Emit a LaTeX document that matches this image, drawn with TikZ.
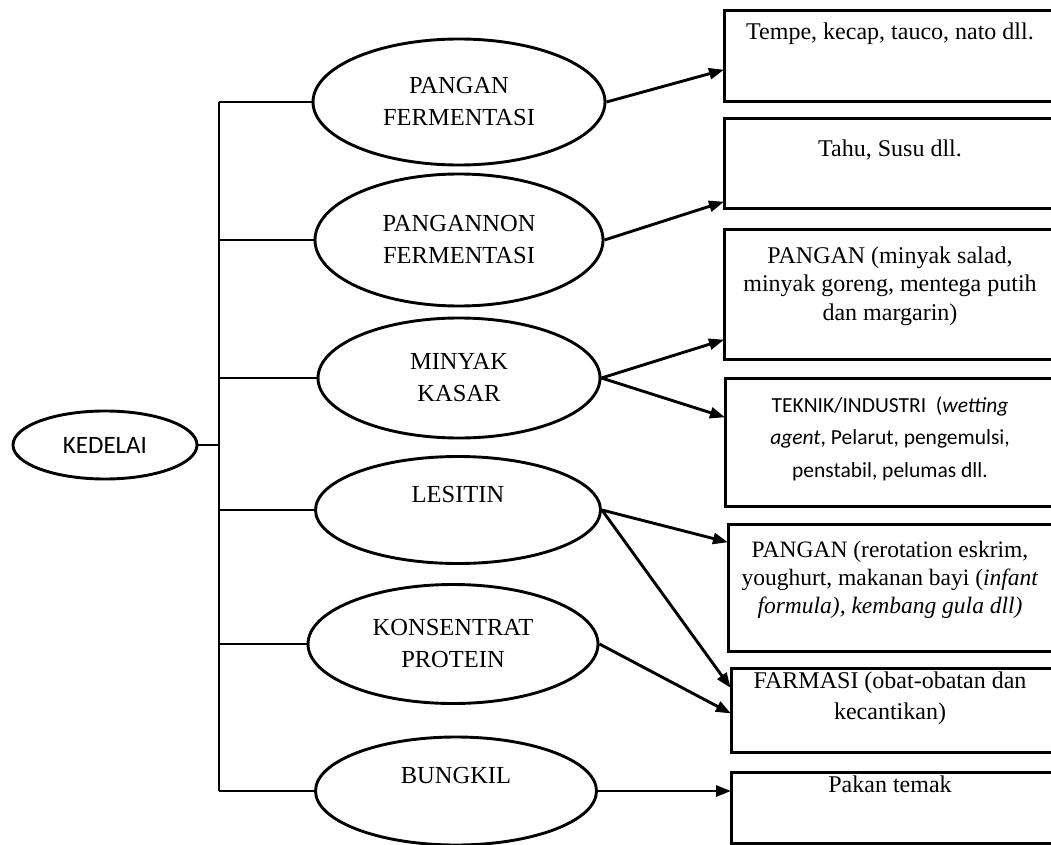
\documentclass[tikz,border=0pt]{standalone}
\usepackage{fontspec}
\setmainfont{Liberation Serif}
\newfontfamily\calfont{Carlito}
\usetikzlibrary{shapes.geometric,arrows.meta}
\tikzset{
  lw/.style={line width=2.9pt},
  oval/.style={ellipse, draw, lw, inner sep=0pt, align=center,
    font={\fontsize{24.5}{32}\selectfont}},
  boxnode/.style={rectangle, draw, lw, inner sep=0pt, anchor=north west},
  txt/.style={align=center, inner sep=0pt, anchor=base,
    font={\fontsize{24}{28}\selectfont}},
  conn/.style={lw},
  arr/.style={lw, -{Triangle[length=15pt,width=11pt]}, shorten >=-1pt}
}
\begin{document}
\begin{tikzpicture}[x=1pt,y=-1pt]
\clip (0,0) rectangle (1051,845);
\fill[white] (0,0) rectangle (1051,845);

% root
\node[oval, minimum width=184pt, minimum height=68pt,
      font={\calfont\fontsize{25}{28}\selectfont}] (k) at (105,445) {KEDELAI};
\coordinate (t) at (219,0);

% ellipses
\node[oval, minimum width=292pt, minimum height=126pt] (e1) at (459,102) {PANGAN\\FERMENTASI};
\node[oval, minimum width=288pt, minimum height=132pt] (e2) at (459,240) {PANGANNON\\FERMENTASI};
\node[oval, minimum width=282pt, minimum height=120pt] (e3) at (459,378) {MINYAK\\KASAR};
\node[oval, minimum width=285pt, minimum height=107pt] (e4) at (458,510) {LESITIN\\\mbox{}};
\node[oval, minimum width=290pt, minimum height=119pt] (e5) at (453,644) {KONSENTRAT\\PROTEIN};
\node[oval, minimum width=281pt, minimum height=108pt] (e6) at (456,791) {BUNGKIL\\\mbox{}};

% boxes
\node[boxnode, minimum width=333pt, minimum height=91pt]  (b1) at (723,9) {};
\node[boxnode, minimum width=333pt, minimum height=90pt]  (b2) at (723,117) {};
\node[boxnode, minimum width=333pt, minimum height=130pt] (b3) at (723,228) {};
\node[boxnode, minimum width=332pt, minimum height=128pt] (b4) at (724,377) {};
\node[boxnode, minimum width=329pt, minimum height=127pt] (b5) at (727,523) {};
\node[boxnode, minimum width=326pt, minimum height=84pt]  (b6) at (730,667) {};
\node[boxnode, minimum width=326pt, minimum height=71pt]  (b7) at (730,771) {};

% box texts (base = last line's baseline)
\node[txt] (t1) at (890,40) {Tempe, kecap, tauco, nato dll.};
\node[txt] (t2) at (890,157) {Tahu, Susu dll.};
\node[txt, font={\fontsize{24}{28.5}\selectfont}] (t3) at (890,320)
  {PANGAN (minyak salad,\\minyak goreng, mentega putih\\dan margarin)};
\node[txt, font={\calfont\fontsize{21.5}{32.5}\selectfont}] (t4) at (890,477)
  {TEKNIK/INDUSTRI\ \ (\textit{wetting}\\\textit{agent}, Pelarut, pengemulsi,\\penstabil, pelumas dll.};
\node[txt, font={\fontsize{23.5}{28}\selectfont}] (t5) at (890,613)
  {PANGAN (rerotation eskrim,\\youghurt, makanan bayi (\textit{infant}\\\textit{formula), kembang gula dll)}};
\node[txt, font={\fontsize{24}{31}\selectfont}] (t6) at (890,719)
  {FARMASI (obat-obatan dan\\kecantikan)};
\node[txt] (t7) at (890,792) {Pakan temak};

% trunk and branches
\draw[conn] (e1.west -| t) -- (e6.west -| t);
\draw[conn] (k.east) -- (k.east -| t);
\foreach \i in {1,...,6}{
  \draw[conn] (e\i.west -| t) -- (e\i.west);
}

% arrows
\draw[arr] (e1.east) -- (b1.west |- 0,70);
\draw[arr] (e2.east) -- (b2.west |- 0,202);
\draw[arr] (e3.east) -- (b3.west |- 0,340);
\draw[arr] (e3.east) -- (b4.west |- 0,417);
\draw[arr] (e4.east) -- (b5.west |- 0,542);
\draw[arr] (e4.east) -- (b6.west |- 0,687);
\draw[arr] (e5.east) -- (b6.west |- 0,713);
\draw[arr] (e6.east) -- (e6.east -| b7.west);
\end{tikzpicture}
\end{document}
